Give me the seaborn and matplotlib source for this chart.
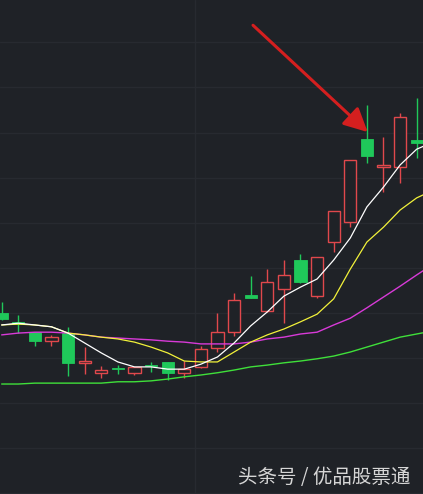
import numpy as np
import pandas as pd
import matplotlib
matplotlib.use("Agg")
import matplotlib.pyplot as plt
import seaborn as sns

# ---- data ----
opens  = [12.00, 11.80, 11.57, 11.37, 11.55, 10.89, 10.67, 10.78, 10.67, 10.84, 10.91, 10.67, 10.80,
          11.22, 11.57, 12.39, 12.04, 12.53, 13.17, 12.37, 13.57, 14.01, 15.85, 15.23, 15.23, 15.83]
highs  = [12.24, 11.95, 11.57, 11.51, 11.69, 11.24, 10.82, 10.84, 10.80, 10.91, 10.91, 10.93, 11.26,
          12.00, 12.44, 12.82, 12.97, 13.17, 13.30, 13.24, 14.26, 15.39, 16.61, 15.90, 16.43, 16.76]
lows   = [11.84, 11.55, 11.26, 11.26, 10.60, 10.64, 10.55, 10.64, 10.62, 10.69, 10.51, 10.55, 10.78,
          11.13, 11.49, 12.33, 12.02, 11.77, 12.66, 12.33, 13.35, 13.90, 15.32, 14.68, 14.88, 15.43]
closes = [11.86, 11.75, 11.37, 11.46, 10.89, 10.93, 10.73, 10.75, 10.80, 10.82, 10.67, 10.75, 11.20,
          11.57, 12.28, 12.33, 12.68, 12.84, 12.68, 13.24, 14.26, 15.39, 15.48, 15.28, 16.34, 15.76]

ma5  = [11.73, 11.77, 11.73, 11.69, 11.55, 11.33, 11.11, 10.91, 10.80, 10.80, 10.75, 10.75, 10.86, 11.02,
        11.33, 11.71, 12.02, 12.37, 12.57, 12.75, 13.17, 13.66, 14.35, 14.79, 15.28, 15.63, 15.79]
ma10 = [11.73, 11.75, 11.73, 11.69, 11.55, 11.51, 11.46, 11.42, 11.35, 11.24, 11.11, 10.93, 10.91, 10.91,
        11.13, 11.35, 11.51, 11.64, 11.80, 11.97, 12.31, 12.97, 13.57, 13.90, 14.28, 14.55, 14.72]
ma20 = [11.51, 11.55, 11.57, 11.57, 11.55, 11.51, 11.46, 11.44, 11.42, 11.40, 11.37, 11.35, 11.31, 11.31,
        11.31, 11.35, 11.42, 11.46, 11.53, 11.57, 11.73, 11.88, 12.11, 12.35, 12.59, 12.84, 13.08]
ma60 = [10.42, 10.42, 10.44, 10.44, 10.44, 10.44, 10.44, 10.47, 10.47, 10.49, 10.53, 10.58, 10.62, 10.67,
        10.73, 10.80, 10.84, 10.89, 10.93, 10.98, 11.04, 11.13, 11.24, 11.35, 11.46, 11.53, 11.60]

watermark = "头条号 / 优品股票通"

# ---- style ----
BG = "#1f2227"
GRID = "#272a30"
RED = "#e0484c"
GREEN = "#1fc85a"

sns.set_theme(style="dark", rc={"axes.facecolor": BG, "figure.facecolor": BG})
plt.rcParams['font.family'] = ['Noto Sans CJK SC', 'DejaVu Sans']

fig = plt.figure(figsize=(4.23, 4.94), dpi=100)
ax = fig.add_axes([0, 0, 1, 1])
ax.set_facecolor(BG)

# grid
for gy in range(8, 19):
    ax.axhline(gy, color=GRID, lw=1.0, zorder=0)
ax.axvline(11.65, color=GRID, lw=1.0, zorder=0)

# candles
n = len(opens)
idx = np.arange(n)
W = 0.74
for i in idx:
    o, h, l, c = opens[i], highs[i], lows[i], closes[i]
    top, bot = max(o, c), min(o, c)
    hgt = max(top - bot, 0.03)
    if c >= o:  # up: hollow red
        ax.vlines(i, top, h, color=RED, lw=1.0, zorder=3)
        ax.vlines(i, l, bot, color=RED, lw=1.0, zorder=3)
        ax.bar(i, hgt, bottom=bot, width=W, facecolor=BG, edgecolor=RED, linewidth=1.0, zorder=3)
    else:  # down: filled green
        ax.vlines(i, l, h, color=GREEN, lw=1.0, zorder=3)
        ax.bar(i, hgt, bottom=bot, width=W, facecolor=GREEN, edgecolor=GREEN, linewidth=0.6, zorder=3)

# moving averages
ma_df = pd.DataFrame({"x": np.arange(len(ma5)), "MA5": ma5, "MA10": ma10, "MA20": ma20, "MA60": ma60})
for col, colr, lw in [("MA60", "#3fe03a", 1.0), ("MA20", "#d83ad8", 1.0),
                      ("MA10", "#f2f23a", 0.9), ("MA5", "#ffffff", 0.9)]:
    sns.lineplot(data=ma_df, x="x", y=col, color=colr, lw=lw, ax=ax, sort=False, zorder=4)

# arrow annotation
ax.annotate("", xy=(22.05, 16.01), xytext=(15.14, 18.38),
            arrowprops=dict(arrowstyle="-|>,head_length=1.2,head_width=0.6",
                            color="#d41f1f", lw=2.2, shrinkA=0, shrinkB=0), zorder=6)

ax.set_xlim(-0.1, 25.38)
ax.set_ylim(7.98, 18.94)
ax.set_xticks([])
ax.set_yticks([])
ax.set_xlabel("")
ax.set_ylabel("")
for s in ax.spines.values():
    s.set_visible(False)

fig.text(410 / 423, 1 - 477 / 494, watermark, ha="right", va="center",
         fontsize=14, fontweight="medium", color="#d6d6d6",
         family=['Noto Sans CJK SC', 'DejaVu Sans'])

fig.savefig("out.png", dpi=100, facecolor=BG)
